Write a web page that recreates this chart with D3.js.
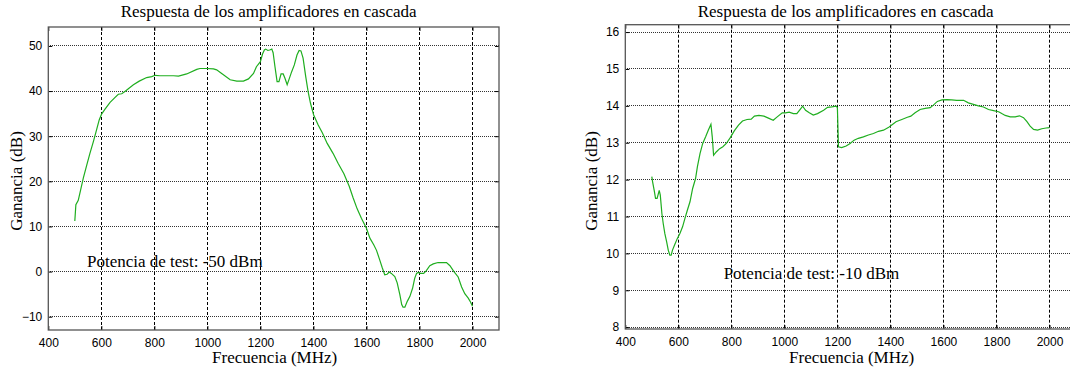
<!DOCTYPE html>
<html>
<head>
<meta charset="utf-8">
<script src="https://cdn.jsdelivr.net/npm/d3@7"></script>
<style>
  body { margin: 0; background: #fff; }
  svg { display: block; }
  .tick text { font-family: "Liberation Sans", Arial, sans-serif; font-size: 12px; fill: #000; }
  .lbl { font-family: "Liberation Serif", "Times New Roman", serif; font-size: 17px; fill: #000; }
</style>
</head>
<body>
<div id="chart"></div>
<script>
// ---- data ----
var xTicks = [400, 600, 800, 1000, 1200, 1400, 1600, 1800, 2000];

// panel 1 : test power -50 dBm
var freqA = [500, 504, 513, 522, 532, 545, 557, 570, 582, 592, 601, 614, 633, 652, 664, 677, 689, 702, 721, 743,
  771, 790, 803, 821, 847, 872, 891, 922, 960, 972, 997, 1023, 1035, 1054, 1086, 1111, 1136, 1155, 1174, 1185,
  1200, 1208, 1215, 1220, 1228, 1235, 1243, 1248, 1255, 1263, 1270, 1278, 1286, 1293, 1301, 1308, 1318, 1328, 1338, 1346,
  1353, 1361, 1371, 1380, 1389, 1401, 1418, 1434, 1452, 1474, 1493, 1515, 1535, 1550, 1565, 1581, 1600, 1613, 1628, 1638,
  1650, 1660, 1669, 1678, 1686, 1694, 1707, 1716, 1726, 1733, 1738, 1745, 1754, 1764, 1774, 1782, 1789, 1795, 1804, 1816,
  1826, 1839, 1852, 1870, 1889, 1902, 1915, 1930, 1946, 1959, 1971, 1984, 1993, 2000];
var gainA = [11.2, 14.8, 15.8, 18.1, 20.7, 23.6, 26.2, 28.8, 31.4, 33.6, 34.9, 36.0, 37.5, 38.6, 39.3, 39.4, 39.9, 40.5, 41.4, 42.2,
  43.0, 43.2, 43.5, 43.4, 43.4, 43.4, 43.3, 43.8, 44.8, 45.0, 45.0, 44.9, 44.7, 43.9, 42.5, 42.2, 42.2, 42.7, 43.9, 45.4,
  46.5, 48.2, 49.1, 49.3, 49.0, 49.1, 49.3, 48.5, 45.4, 42.1, 42.1, 43.8, 43.8, 42.8, 41.4, 42.6, 44.3, 45.8, 48.0, 49.0,
  48.9, 47.3, 43.2, 39.9, 37.3, 34.7, 32.5, 30.7, 28.4, 26.2, 24.0, 21.7, 18.9, 16.3, 13.9, 11.8, 9.6, 7.4, 5.9, 4.7,
  2.6, 0.8, -0.7, -0.6, -0.1, -0.4, -1.1, -2.5, -5.1, -7.3, -7.9, -7.9, -6.6, -5.5, -3.7, -1.5, -0.4, -0.2, -0.4, -0.4,
  0.2, 1.3, 1.7, 2.0, 2.0, 2.0, 1.3, 0.0, -1.2, -3.4, -4.9, -5.9, -6.8, -7.7];
var yTicksA = [-10, 0, 10, 20, 30, 40, 50];

// panel 2 : test power -10 dBm
var freqB = [500, 503, 509, 514, 520, 528, 532, 538, 543, 549, 556, 562, 568, 573, 578, 587, 596, 606, 616, 625,
  634, 644, 654, 665, 672, 682, 692, 703, 713, 723, 728, 733, 743, 756, 768, 781, 796, 811, 827, 842,
  859, 875, 887, 904, 923, 942, 958, 973, 992, 1005, 1018, 1034, 1047, 1059, 1069, 1080, 1094, 1109, 1125, 1148,
  1163, 1179, 1195, 1200, 1204, 1216, 1233, 1248, 1263, 1279, 1298, 1317, 1336, 1355, 1374, 1392, 1405, 1421, 1443, 1464,
  1477, 1493, 1512, 1531, 1550, 1562, 1577, 1594, 1613, 1631, 1650, 1676, 1694, 1713, 1732, 1751, 1770, 1789, 1808, 1820,
  1833, 1852, 1871, 1887, 1902, 1915, 1927, 1940, 1955, 1971, 1987, 2000];
var gainB = [12.08, 11.94, 11.71, 11.49, 11.49, 11.71, 11.58, 11.08, 10.81, 10.54, 10.31, 10.09, 9.95, 9.95, 10.09, 10.25, 10.40, 10.54, 10.72, 10.95,
  11.17, 11.40, 11.76, 12.03, 12.35, 12.71, 12.98, 13.16, 13.34, 13.50, 13.16, 12.66, 12.75, 12.84, 12.89, 12.98, 13.14, 13.32, 13.48, 13.59,
  13.63, 13.64, 13.72, 13.74, 13.72, 13.66, 13.61, 13.70, 13.81, 13.81, 13.83, 13.79, 13.79, 13.90, 13.99, 13.88, 13.81, 13.75, 13.79, 13.88,
  13.96, 13.97, 13.99, 13.95, 12.89, 12.87, 12.91, 12.98, 13.07, 13.12, 13.16, 13.21, 13.25, 13.31, 13.34, 13.41, 13.48, 13.57, 13.63, 13.69,
  13.72, 13.81, 13.90, 13.93, 13.95, 14.02, 14.12, 14.16, 14.17, 14.16, 14.15, 14.15, 14.08, 14.04, 14.00, 13.97, 13.90, 13.87, 13.84, 13.79,
  13.74, 13.70, 13.70, 13.73, 13.68, 13.57, 13.45, 13.36, 13.34, 13.38, 13.40, 13.41];
var yTicksB = [8, 9, 10, 11, 12, 13, 14, 15, 16];

var W = 1070, H = 370;
var svg = d3.select("#chart").append("svg")
  .attr("width", W)
  .attr("height", H);

function drawPanel(p) {
  var x = d3.scaleLinear().domain([400, 2100]).range([p.left, p.right]);
  var y = d3.scaleLinear().domain(p.ydom).range([p.bottom, p.top]);
  var g = svg.append("g");

  // grid
  g.selectAll(".hgrid").data(p.yTicks).enter().append("line")
    .attr("x1", p.left).attr("x2", p.right)
    .attr("y1", function(d) { return y(d); }).attr("y2", function(d) { return y(d); })
    .attr("stroke", "#333").attr("stroke-width", 1)
    .attr("stroke-dasharray", "1,1")
    .attr("shape-rendering", "crispEdges");
  g.selectAll(".vgrid").data(xTicks.slice(1)).enter().append("line")
    .attr("x1", function(d) { return Math.round(x(d)) + 0.5; }).attr("x2", function(d) { return Math.round(x(d)) + 0.5; })
    .attr("y1", p.top).attr("y2", p.bottom)
    .attr("stroke", "#000").attr("stroke-width", 1)
    .attr("stroke-dasharray", "3,2");

  // axes with small inward ticks
  g.append("g").attr("transform", "translate(0," + p.bottom + ")")
    .call(d3.axisBottom(x).tickValues(xTicks).tickSize(-4).tickPadding(8).tickFormat(d3.format("d")))
    .call(function(a) { a.select(".domain").remove(); });
  g.append("g").attr("transform", "translate(0," + p.top + ")")
    .call(d3.axisTop(x).tickValues(xTicks).tickSize(-4).tickFormat(""))
    .call(function(a) { a.select(".domain").remove(); });
  g.append("g").attr("transform", "translate(" + p.left + ",0)")
    .call(d3.axisLeft(y).tickValues(p.yTicks).tickSize(-4).tickPadding(6))
    .call(function(a) { a.select(".domain").remove(); });
  g.append("g").attr("transform", "translate(" + p.right + ",0)")
    .call(d3.axisRight(y).tickValues(p.yTicks).tickSize(-4).tickFormat(""))
    .call(function(a) { a.select(".domain").remove(); });
  g.selectAll(".tick line").attr("stroke", "#000");

  // frame
  g.append("rect")
    .attr("x", p.left).attr("y", p.top)
    .attr("width", p.right - p.left).attr("height", p.bottom - p.top)
    .attr("fill", "none").attr("stroke", "#555").attr("stroke-width", 1.3);

  // curve
  var pts = p.freq.map(function(f, i) { return [f, p.gain[i]]; });
  g.append("path").datum(pts)
    .attr("fill", "none")
    .attr("stroke", "#1fae1f")
    .attr("stroke-width", 1.2)
    .attr("d", d3.line().x(function(d) { return x(d[0]); }).y(function(d) { return y(d[1]); }));

  // texts
  g.append("text").attr("class", "lbl")
    .attr("x", (p.left + p.right) / 2 - 5).attr("y", 17)
    .attr("text-anchor", "middle")
    .text("Respuesta de los amplificadores en cascada");
  g.append("text").attr("class", "lbl")
    .attr("x", (p.left + p.right) / 2 + 1).attr("y", 363)
    .attr("text-anchor", "middle")
    .text("Frecuencia (MHz)");
  g.append("text").attr("class", "lbl")
    .attr("transform", "translate(" + p.ylabX + ",181) rotate(-90)")
    .attr("text-anchor", "middle")
    .text("Ganancia (dB)");
  g.append("text").attr("class", "lbl")
    .attr("x", x(p.noteX)).attr("y", y(p.noteY))
    .text(p.note);
}

drawPanel({ left: 48.3, right: 499, top: 27, bottom: 330, ydom: [-12.95, 54.2],
  yTicks: yTicksA, freq: freqA, gain: gainA, ylabX: 22,
  note: "Potencia de test: -50 dBm", noteX: 546, noteY: 1.06 });
drawPanel({ left: 625.3, right: 1076, top: 24.7, bottom: 329, ydom: [7.95, 16.2],
  yTicks: yTicksB, freq: freqB, gain: gainB, ylabX: 597,
  note: "Potencia de test: -10 dBm", noteX: 771, noteY: 9.3 });
</script>
</body>
</html>
